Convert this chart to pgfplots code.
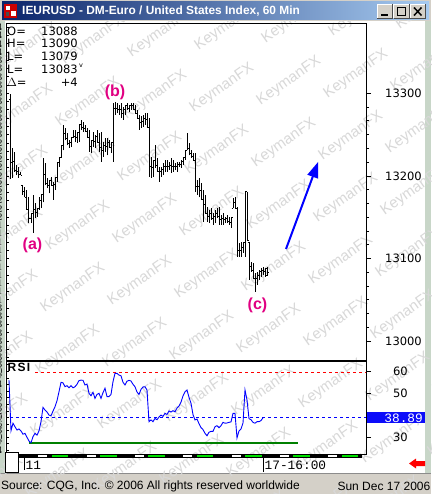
\documentclass[border=0pt]{standalone}
\usepackage{pgfplots}
\pgfplotsset{compat=1.18}
\usepackage{pgfplotstable}
\usepackage{fontspec}
\setmainfont{Liberation Sans}
\newfontfamily\dejavu{DejaVu Sans}
\newfontfamily\lmono{Liberation Mono}
\usetikzlibrary{arrows.meta}
\definecolor{wingray}{RGB}{212,208,200}
\definecolor{sideband}{RGB}{200,214,200}
\definecolor{titleL}{RGB}{10,36,106}
\definecolor{titleR}{RGB}{166,202,240}
\definecolor{wmark}{RGB}{216,216,216}
\definecolor{annot}{RGB}{225,0,130}
\definecolor{valblue}{RGB}{12,12,250}
\definecolor{rsigreen}{RGB}{0,128,0}
\definecolor{stripgreen}{RGB}{0,225,0}
\pgfdeclareplotmark{otick}{\pgfpathmoveto{\pgfqpoint{-1.5pt}{0pt}}\pgfpathlineto{\pgfqpoint{0pt}{0pt}}\pgfusepathqstroke}
\pgfdeclareplotmark{ctick}{\pgfpathmoveto{\pgfqpoint{0pt}{0pt}}\pgfpathlineto{\pgfqpoint{1.5pt}{0pt}}\pgfusepathqstroke}

\pgfplotstableread{
i o h l c
0 13292 13299 13196 13216
1 13216 13234 13198 13217
2 13217 13229 13205 13207
3 13207 13213 13201 13205
4 13205 13211 13198 13202
5 13202 13205 13201 13201
6 13189 13189 13177 13181
7 13181 13187 13174 13174
8 13174 13183 13159 13159
9 13159 13174 13143 13149
10 13149 13155 13143 13154
11 13154 13177 13131 13159
12 13159 13167 13149 13156
13 13156 13161 13150 13161
14 13161 13174 13159 13170
15 13170 13177 13161 13177
16 13177 13222 13168 13202
17 13202 13216 13189 13191
18 13191 13198 13185 13188
19 13188 13195 13179 13194
20 13194 13199 13189 13189
21 13189 13193 13171 13190
22 13190 13198 13183 13198
23 13198 13216 13193 13216
24 13216 13222 13211 13222
25 13222 13237 13222 13237
26 13237 13262 13231 13251
27 13251 13258 13243 13245
28 13245 13252 13237 13239
29 13239 13243 13234 13241
30 13241 13247 13235 13247
31 13247 13256 13246 13248
32 13248 13256 13241 13247
33 13247 13253 13240 13252
34 13252 13262 13241 13262
35 13262 13268 13256 13259
36 13259 13265 13253 13258
37 13258 13262 13254 13254
38 13254 13258 13246 13246
39 13246 13256 13229 13236
40 13236 13243 13228 13243
41 13243 13253 13235 13242
42 13242 13250 13234 13248
43 13248 13256 13240 13241
44 13241 13252 13229 13235
45 13235 13253 13217 13231
46 13231 13241 13223 13237
47 13237 13246 13229 13236
48 13236 13246 13225 13240
49 13240 13243 13235 13235
50 13235 13241 13228 13241
51 13241 13288 13217 13282
52 13282 13289 13274 13282
53 13282 13288 13276 13280
54 13280 13286 13274 13280
55 13280 13288 13270 13276
56 13276 13283 13268 13280
57 13280 13286 13274 13285
58 13285 13288 13280 13282
59 13282 13286 13277 13285
60 13285 13288 13280 13285
61 13285 13288 13280 13281
62 13281 13286 13276 13276
63 13276 13280 13270 13270
64 13270 13274 13256 13265
65 13265 13273 13258 13266
66 13266 13274 13259 13269
67 13269 13276 13262 13268
68 13268 13276 13259 13259
69 13259 13270 13199 13211
70 13211 13223 13198 13210
71 13210 13219 13199 13219
72 13219 13237 13210 13213
73 13213 13222 13205 13205
74 13205 13211 13193 13205
75 13205 13211 13199 13208
76 13208 13216 13201 13212
77 13212 13219 13205 13212
78 13212 13219 13205 13212
79 13212 13217 13207 13213
80 13213 13222 13204 13212
81 13212 13219 13205 13212
82 13212 13216 13207 13211
83 13211 13217 13205 13214
84 13214 13217 13211 13214
85 13214 13219 13210 13218
86 13218 13222 13213 13222
87 13222 13231 13219 13231
88 13231 13252 13231 13233
89 13233 13240 13225 13227
90 13227 13231 13222 13224
91 13224 13228 13219 13219
92 13219 13228 13181 13187
93 13187 13195 13177 13187
94 13187 13198 13174 13182
95 13182 13191 13171 13171
96 13171 13183 13144 13166
97 13166 13177 13155 13155
98 13155 13162 13144 13151
99 13151 13159 13143 13154
100 13154 13161 13147 13148
101 13148 13155 13141 13151
102 13151 13159 13143 13155
103 13155 13161 13149 13151
104 13151 13162 13141 13147
105 13147 13153 13141 13148
106 13148 13155 13141 13147
107 13147 13150 13143 13148
108 13148 13153 13143 13145
109 13145 13150 13141 13144
110 13144 13150 13137 13150
111 13161 13173 13161 13168
112 13168 13174 13161 13161
113 13161 13162 13102 13110
114 13110 13119 13102 13110
115 13110 13120 13102 13113
116 13113 13119 13107 13119
117 13119 13181 13102 13181
118 13181 13181 13122 13122
119 13120 13120 13074 13090
120 13090 13096 13084 13086
121 13086 13095 13076 13076
122 13076 13082 13060 13076
123 13076 13084 13068 13080
124 13080 13086 13074 13084
125 13084 13088 13078 13085
126 13085 13090 13080 13084
127 13084 13088 13078 13079
128 13088 13090 13079 13083
}\ohlc

\pgfplotstableread{
i r
-1 56.0
0 33.0
1 36.4
2 34.8
3 33.3
4 33.8
5 32.9
6 31.4
7 31.8
8 30.0
9 28.3
10 27.5
11 30.3
12 31.8
13 31.0
14 32.9
15 37.1
16 43.6
17 42.4
18 41.5
19 40.1
20 39.8
21 41.9
22 43.9
23 46.6
24 50.7
25 55.0
26 54.8
27 53.0
28 53.5
29 52.5
30 53.5
31 52.5
32 53.0
33 54.1
34 55.8
35 56.0
36 55.9
37 53.8
38 54.2
39 50.0
40 48.9
41 50.5
42 47.7
43 49.5
44 50.0
45 47.7
46 50.3
47 52.3
48 48.5
49 48.5
50 49.5
51 55.3
52 59.1
53 59.1
54 58.3
55 58.0
56 55.0
57 53.8
58 55.5
59 55.9
60 55.6
61 54.1
62 53.0
63 50.6
64 49.5
65 51.8
66 52.9
67 53.0
68 51.5
69 37.1
70 37.9
71 37.1
72 38.6
73 38.0
74 39.2
75 40.1
76 39.5
77 40.9
78 40.4
79 42.0
80 41.5
81 42.1
82 41.6
83 43.3
84 44.2
85 46.0
86 48.8
87 50.7
88 51.5
89 48.2
90 45.5
91 40.3
92 37.9
93 38.3
94 36.2
95 34.4
96 33.5
97 31.8
98 30.7
99 32.3
100 32.7
101 32.7
102 34.8
103 35.3
104 34.4
105 35.3
106 36.8
107 36.4
108 36.5
109 36.8
110 37.0
111 40.9
112 40.9
113 29.7
114 32.9
115 33.8
116 36.5
117 51.5
118 47.0
119 38.5
120 38.0
121 36.8
122 36.4
123 37.1
124 37.1
125 37.6
126 38.89
}\rsi

\begin{document}
\begin{tikzpicture}
\useasboundingbox (0pt,0pt) rectangle (431pt,-494pt);
% window background
\fill[wingray] (0pt,0pt) rectangle (431pt,-494pt);
\fill[sideband] (0pt,-21pt) rectangle (5pt,-474pt);
\fill[sideband] (425pt,-21pt) rectangle (431pt,-474pt);
\fill[white] (5pt,-21pt) rectangle (425pt,-473pt);
\draw[black!45, line width=0.8pt] (0pt,-473.8pt) -- (431pt,-473.8pt);
% watermark
\begin{scope}
\clip (0pt,-21pt) rectangle (431pt,-494pt);
\foreach \i in {-1,...,6}{
  \foreach \j in {-1,...,7}{
    \node[rotate=35, text=wmark, inner sep=0pt, font=\fontsize{15}{15}\selectfont]
      at ({(88+67*(\i)-5*(\j))*1pt},{(-102+7*(\i)-62*(\j))*1pt}) {KeymanFX};
  }
}
\end{scope}

% price panel
\begin{axis}[
  at={(6pt,-23pt)}, anchor=north west,
  width=360pt, height=338pt, scale only axis,
  xmin=-2.5, xmax=177.5, ymin=12975.9, ymax=13385.2,
  axis line style={line width=0.8pt},
  xtick=\empty,
  ytick={13000,13100,13200,13300},
  yticklabels={13000,13100,13200,13300},
  ytick pos=right, tick align=outside,
  minor y tick num=5,
  major tick length=5pt, minor tick length=3pt,
  every tick/.style={black, line width=0.8pt},
  scaled y ticks=false,
  yticklabel style={font=\dejavu\fontsize{11.5}{12}\selectfont, anchor=east, inner sep=0pt, xshift=51pt},
]
\addplot[draw=none, mark=none, error bars/.cd, y dir=plus, y explicit, error mark=none,
  error bar style={draw=black, line width=1pt, solid}]
  table[x=i, y=l, y error plus expr=\thisrow{h}-\thisrow{l}] {\ohlc};
\addplot[only marks, mark=otick, mark options={draw=black, line width=1pt}] table[x=i,y=o] {\ohlc};
\addplot[only marks, mark=ctick, mark options={draw=black, line width=1pt}] table[x=i,y=c] {\ohlc};
\end{axis}
% left inner ticks price
\begin{axis}[
  at={(6pt,-23pt)}, anchor=north west,
  width=360pt, height=338pt, scale only axis,
  xmin=-2.5, xmax=177.5, ymin=12975.9, ymax=13385.2,
  axis line style={draw=none}, xtick=\empty,
  ytick distance=10, ytick pos=left, tick align=inside,
  major tick length=3pt, yticklabel={},
  every tick/.style={black, line width=0.8pt},
]
\end{axis}

% RSI panel
\begin{axis}[
  at={(6pt,-361pt)}, anchor=north west,
  width=360pt, height=93pt, scale only axis,
  xmin=-2.5, xmax=177.5, ymin=22.4, ymax=64.7,
  axis line style={line width=0.8pt},
  xtick=\empty,
  ytick={30,40,50,60}, yticklabels={30,,50,60},
  ytick pos=right, tick align=outside,
  major tick length=5pt,
  every tick/.style={black, line width=0.8pt},
  yticklabel style={font=\dejavu\fontsize{11.5}{12}\selectfont, anchor=east, inner sep=0pt, xshift=37pt},
]
\addplot[red, line width=0.9pt, dash pattern=on 3pt off 3pt] coordinates {(12,59.4) (177.5,59.4)};
\addplot[blue, line width=0.9pt, dash pattern=on 3pt off 3pt] coordinates {(-0.5,38.89) (177.5,38.89)};
\addplot[rsigreen, line width=2pt] coordinates {(9,27.5) (143.5,27.5)};
\addplot[blue, line width=0.9pt] table[x=i,y=r] {\rsi};
\end{axis}
\begin{axis}[
  at={(6pt,-361pt)}, anchor=north west,
  width=360pt, height=93pt, scale only axis,
  xmin=-2.5, xmax=177.5, ymin=22.4, ymax=64.7,
  axis line style={draw=none}, xtick=\empty,
  ytick distance=3, ytick pos=left, tick align=inside,
  major tick length=3pt, yticklabel={},
  every tick/.style={black, line width=0.8pt},
]
\end{axis}
\draw[black, line width=1.8pt] (6pt,-361pt) -- (366pt,-361pt);

% info block
\begin{scope}[every node/.style={inner sep=0pt, font=\dejavu\fontsize{11.5}{12}\selectfont}]
\node[anchor=west] at (7pt,-31pt) {O=};
\node[anchor=west] at (7pt,-43.3pt) {H=};
\node[anchor=west] at (7pt,-56pt) {L=};
\node[anchor=west] at (7pt,-69pt) {L=};
\node[anchor=west] at (7pt,-82.7pt) {$\Delta$=};
\node[anchor=east] at (78pt,-31pt) {13088};
\node[anchor=east] at (78pt,-43.3pt) {13090};
\node[anchor=east] at (78pt,-56pt) {13079};
\node[anchor=east] at (78pt,-69pt) {13083};
\node[anchor=east] at (78pt,-82.7pt) {+4};
\end{scope}
\node[inner sep=0pt, font=\dejavu\fontsize{6.5}{7}\selectfont] at (81pt,-66pt) {v};

% wave labels
\begin{scope}[every node/.style={inner sep=0pt, text=annot, font=\bfseries\fontsize{16}{16}\selectfont}]
\node at (32.5pt,-245pt) {(a)};
\node at (115pt,-92.5pt) {(b)};
\node at (257.5pt,-305pt) {(c)};
\end{scope}
\draw[blue, line width=2pt, -{Triangle[length=16pt, width=11pt]}] (286pt,-249pt) -- (318.3pt,-161.7pt);

% RSI label and value box
\node[anchor=west, inner sep=0pt, font=\bfseries\fontsize{12}{12}\selectfont] at (7.5pt,-367.5pt) {R\kern1.2pt S\kern1.2pt I};
\fill[valblue] (367pt,-412.3pt) rectangle (425pt,-423.3pt);
\node[anchor=east, inner sep=0pt, text=white, font=\lmono\fontsize{12.8}{13}\selectfont] at (423pt,-418pt) {38.89};

% time strip
\fill[black] (18pt,-454.3pt) rectangle (362pt,-457.5pt);
\foreach \n in {-1,...,5}{
  \fill[white] ({(86.7+48.3*(\n))*1pt},-455.2pt) rectangle ({(95.7+48.3*(\n))*1pt},-456.6pt);
  \fill[stripgreen] ({(100+48.3*(\n))*1pt},-455.2pt) rectangle ({(116.7+48.3*(\n))*1pt},-456.6pt);
}
\filldraw[fill=white, draw=black, line width=0.8pt] (5pt,-452pt) rectangle (18pt,-472pt);
\draw[black, line width=0.8pt] (24pt,-457pt) -- (24pt,-470pt);
\draw[black, line width=0.8pt] (263pt,-456pt) -- (263pt,-472pt);
\node[anchor=west, inner sep=0pt, font=\lmono\fontsize{12.8}{13}\selectfont] at (25.5pt,-465pt) {11};
\node[anchor=west, inner sep=0pt, font=\lmono\fontsize{12.8}{13}\selectfont] at (264.5pt,-465pt) {17-16:00};
\fill[red] (409pt,-463.5pt) -- (416pt,-458.5pt) -- (416pt,-461pt) -- (425pt,-461pt) -- (425pt,-466pt) -- (416pt,-466pt) -- (416pt,-468.5pt) -- cycle;

% status bar
\node[anchor=west, inner sep=0pt, font=\fontsize{12}{12}\selectfont] at (1pt,-486.5pt) {Source: CQG, Inc. \textcopyright\ 2006 All rights reserved worldwide};
\node[anchor=east, inner sep=0pt, font=\fontsize{12}{12}\selectfont] at (430.5pt,-486.5pt) {Sun Dec 17 2006};

% title bar
\shade[left color=titleL, right color=titleR] (2pt,-2pt) rectangle (429pt,-20pt);
\fill[red!80!black] (4pt,-4pt) rectangle (17pt,-18pt);
\fill[white] (5.5pt,-6pt) rectangle (9.5pt,-10pt);
\fill[white] (11pt,-11pt) rectangle (15.5pt,-16pt);
\fill[black!70] (6pt,-12pt) rectangle (9pt,-16pt);
\node[anchor=west, inner sep=0pt, text=white, font=\bfseries\fontsize{11.9}{12}\selectfont] at (22pt,-11.5pt) {IEURUSD - DM-Euro / United States Index, 60 Min};
\foreach \bx in {377,393.5,410}{
  \fill[wingray] (\bx pt,-4.5pt) rectangle ({\bx pt+15.5pt},-18.5pt);
  \draw[white, line width=0.8pt] (\bx pt,-18.5pt) -- (\bx pt,-4.5pt) -- ({\bx pt+15.5pt},-4.5pt);
  \draw[black!70, line width=0.8pt] (\bx pt,-18.5pt) -- ({\bx pt+15.5pt},-18.5pt) -- ({\bx pt+15.5pt},-4.5pt);
}
\fill[black] (381pt,-14pt) rectangle (387.5pt,-16pt);
\draw[black, line width=0.8pt] (397pt,-7pt) rectangle (405.5pt,-15.5pt);
\draw[black, line width=1.6pt] (397pt,-7.5pt) -- (405.5pt,-7.5pt);
\draw[black, line width=1.5pt] (414pt,-7.5pt) -- (421.5pt,-15.5pt);
\draw[black, line width=1.5pt] (414pt,-15.5pt) -- (421.5pt,-7.5pt);
\end{tikzpicture}
\end{document}
